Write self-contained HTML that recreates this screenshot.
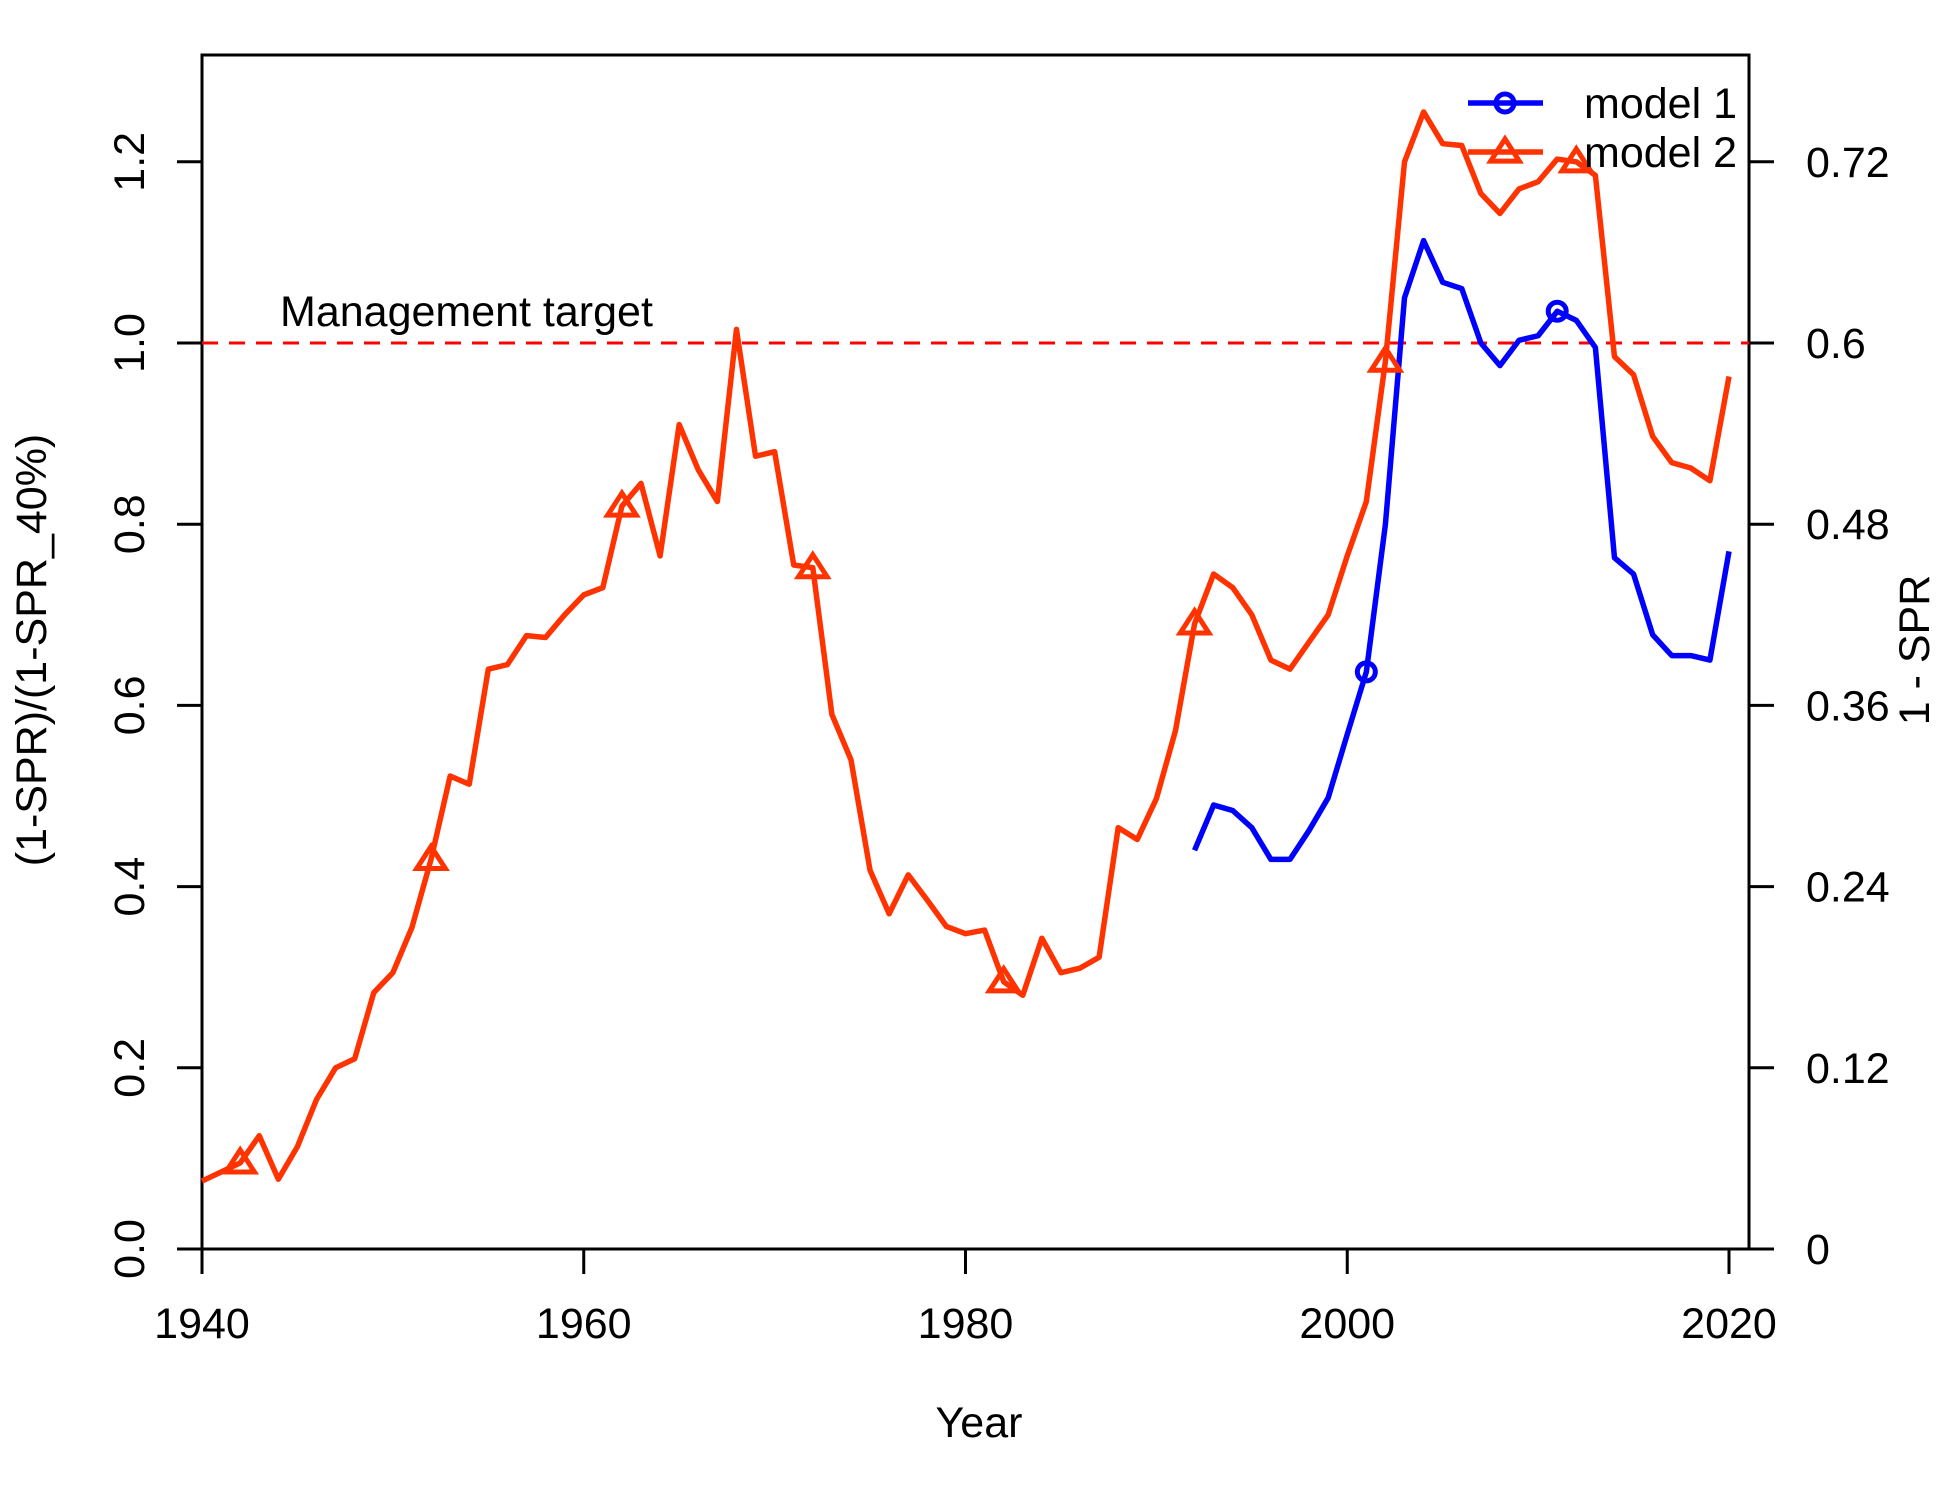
<!DOCTYPE html>
<html><head><meta charset="utf-8"><style>
body{margin:0;background:#fff}
svg{display:block;font-family:"Liberation Sans",Arial,sans-serif}
</style></head><body>
<svg id="chart" width="1950" height="1500" viewBox="0 0 1950 1500">
<g id="axes"></g>
<g id="series"></g>
</svg>
<script>
const years2 = [1940,1941,1942,1943,1944,1945,1946,1947,1948,1949,1950,1951,1952,1953,1954,1955,1956,1957,1958,1959,1960,1961,1962,1963,1964,1965,1966,1967,1968,1969,1970,1971,1972,1973,1974,1975,1976,1977,1978,1979,1980,1981,1982,1983,1984,1985,1986,1987,1988,1989,1990,1991,1992,1993,1994,1995,1996,1997,1998,1999,2000,2001,2002,2003,2004,2005,2006,2007,2008,2009,2010,2011,2012,2013,2014,2015,2016,2017,2018,2019,2020];
const model2 = [0.075,0.085,0.095,0.125,0.077,0.113,0.165,0.2,0.21,0.283,0.305,0.355,0.43,0.522,0.513,0.64,0.645,0.677,0.675,0.7,0.722,0.73,0.82,0.845,0.765,0.91,0.86,0.825,1.015,0.875,0.88,0.755,0.752,0.59,0.54,0.418,0.37,0.413,0.385,0.356,0.348,0.352,0.295,0.28,0.343,0.305,0.31,0.322,0.465,0.452,0.497,0.572,0.69,0.745,0.73,0.7,0.65,0.64,0.67,0.7,0.765,0.825,0.98,1.2,1.255,1.22,1.218,1.165,1.143,1.17,1.178,1.203,1.2,1.185,0.985,0.965,0.897,0.868,0.862,0.848,0.963];
const years1 = [1992,1993,1994,1995,1996,1997,1998,1999,2000,2001,2002,2003,2004,2005,2006,2007,2008,2009,2010,2011,2012,2013,2014,2015,2016,2017,2018,2019,2020];
const model1 = [0.44,0.49,0.484,0.465,0.43,0.43,0.462,0.498,0.568,0.637,0.8,1.05,1.113,1.067,1.06,1.0,0.975,1.003,1.008,1.035,1.025,0.995,0.763,0.745,0.678,0.655,0.655,0.65,0.77];
const markYears1 = [2001,2011];
const markYears2 = [1942,1952,1962,1972,1982,1992,2002,2012];
const xTicks = [1940,1960,1980,2000,2020];
const yTicks = [0,0.2,0.4,0.6,0.8,1.0,1.2];
const yTickLabels = ["0.0","0.2","0.4","0.6","0.8","1.0","1.2"];
const y2Ticks = [0,0.12,0.24,0.36,0.48,0.6,0.72];
const target = 1.0;

const NS="http://www.w3.org/2000/svg";
const L=202,R=1749,T=55,B=1249;
const x=v=>L+(v-1940)*(1729-202)/80;
const y=v=>B-v*906;
const y2=v=>y(v/0.6);
function mk(tag,attrs,parent,text){const e=document.createElementNS(NS,tag);for(const k in attrs)e.setAttribute(k,attrs[k]);if(text!==undefined)e.textContent=text;parent.appendChild(e);return e;}
const ax=document.getElementById('axes'), se=document.getElementById('series');
const FS=43;

let box=mk('rect',{x:L,y:T,width:R-L,height:B-T,fill:'none',stroke:'#000','stroke-width':3},ax);



xTicks.forEach(t=>{
  let l=mk('line',{x1:x(t),x2:x(t),y1:B,y2:B+25,stroke:'#000','stroke-width':3},ax);
  
  
  let tx=mk('text',{x:x(t),y:B+89,'font-size':FS,'text-anchor':'middle'},ax,String(t));
  
  
});
yTicks.forEach((t,i)=>{
  let l=mk('line',{x1:L-25,x2:L,y1:y(t),y2:y(t),stroke:'#000','stroke-width':3},ax);
  
  
  let tx=mk('text',{x:144,y:y(t),'font-size':FS,'text-anchor':'middle',transform:`rotate(-90 144 ${y(t)})`},ax,yTickLabels[i]);
  
  
});
y2Ticks.forEach(t=>{
  let l=mk('line',{x1:R,x2:R+25,y1:y2(t),y2:y2(t),stroke:'#000','stroke-width':3},ax);
  
  
  let tx=mk('text',{x:1806,y:y2(t)+15,'font-size':FS,'text-anchor':'start'},ax,String(t));
  
  
});
let xt=mk('text',{x:979,y:1437,'font-size':FS,'text-anchor':'middle'},ax,'Year');


let yt=mk('text',{x:46,y:650,'font-size':FS,'text-anchor':'middle',transform:'rotate(-90 46 650)'},ax,'(1-SPR)/(1-SPR_40%)');


let y2t=mk('text',{x:1929,y:650,'font-size':FS,'text-anchor':'middle',transform:'rotate(-90 1929 650)'},ax,'1 - SPR');



let tl=mk('line',{x1:L,x2:R,y1:y(target),y2:y(target),stroke:'#ff0000','stroke-width':3,'stroke-dasharray':'16 11'},se);


let tt=mk('text',{x:280,y:y(target)-17,'font-size':FS},se,'Management target');



const RED='#ff3300',BLUE='#0000ff';
let p2=mk('polyline',{points:years2.map((yr,i)=>x(yr)+','+y(model2[i])).join(' '),fill:'none',stroke:RED,'stroke-width':5.5,'stroke-linejoin':'round'},se);


let p1=mk('polyline',{points:years1.map((yr,i)=>x(yr)+','+y(model1[i])).join(' '),fill:'none',stroke:BLUE,'stroke-width':5.5,'stroke-linejoin':'round'},se);


function tri(cx,cy,parent){const s=13;return mk('polygon',{points:`${cx},${cy-s} ${cx-s*1.1},${cy+s*0.7} ${cx+s*1.1},${cy+s*0.7}`,fill:'none',stroke:RED,'stroke-width':5},parent);}
markYears2.forEach(yr=>{
  const v=model2[years2.indexOf(yr)];
  let m=tri(x(yr),y(v),se);
  
  
});
markYears1.forEach(yr=>{
  const v=model1[years1.indexOf(yr)];
  let m=mk('circle',{cx:x(yr),cy:y(v),r:9,fill:'none',stroke:BLUE,'stroke-width':5},se);
  
  
});
let lg=mk('g',{},se);


let l1=mk('line',{x1:1468,x2:1543,y1:103,y2:103,stroke:BLUE,'stroke-width':5.5},lg);


let c1=mk('circle',{cx:1505,cy:103,r:9,fill:'none',stroke:BLUE,'stroke-width':5},lg);


let t1=mk('text',{x:1584,y:118,'font-size':FS},lg,'model 1');


let l2=mk('line',{x1:1468,x2:1543,y1:152,y2:152,stroke:RED,'stroke-width':5.5},lg);


let m2=tri(1505,152,lg);


let t2=mk('text',{x:1584,y:167,'font-size':FS},lg,'model 2');


</script>
</body></html>
